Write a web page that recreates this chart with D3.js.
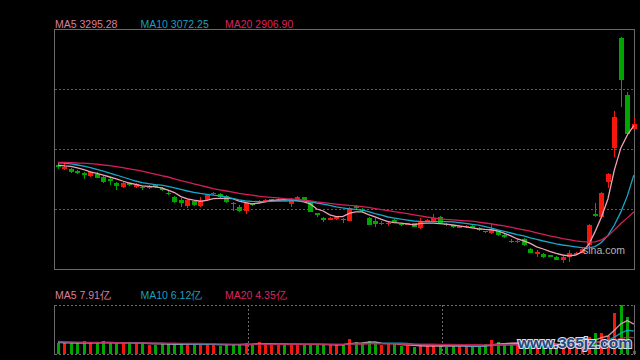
<!DOCTYPE html>
<html><head><meta charset="utf-8">
<script src="https://cdn.jsdelivr.net/npm/d3@7/dist/d3.min.js"></script>
<style>html,body{margin:0;padding:0;background:#000;}svg{display:block}</style>
</head><body><svg id="c" width="640" height="360"></svg>
<script>
// ---- data ----
const openP = [3118,3102,3100,3091,3083,3070,3078,3063,3054,3038,3020,3036,3018,3018,3013,3028,3016,2993,2975,2959,2935,2955,2935,2959,2986,2988,2978,2948,2930,2912,2944,2948,2957,2957,2958,2964,2943,2961,2973,2950,2900,2878,2874,2875,2874,2867,2932,2917,2880,2867,2854,2853,2871,2853,2850,2856,2833,2865,2863,2885,2853,2847,2838,2839,2844,2836,2820,2811,2822,2801,2778,2774,2784,2741,2721,2718,2711,2705,2691,2705,2718,2724,2758,2896,2885,3040,3196,3691,3433,3281];
const highP = [3127,3127,3105,3096,3088,3090,3088,3069,3058,3043,3043,3039,3036,3022,3027,3031,3019,3000,2980,2968,2964,2959,2975,2986,2995,2992,2981,2953,2937,2948,2949,2959,2966,2967,2968,2968,2968,2980,2975,2953,2904,2885,2884,2885,2878,2931,2937,2923,2883,2878,2865,2864,2874,2857,2857,2858,2881,2874,2896,2889,2856,2849,2845,2848,2847,2839,2822,2858,2826,2811,2783,2783,2790,2745,2736,2722,2713,2709,2707,2736,2728,2745,2853,2946,2998,3082,3362,3694,3448,3328];
const lowP = [3102,3096,3083,3078,3056,3064,3058,3036,3028,3006,3016,3024,3013,3007,3010,3015,3001,2982,2949,2930,2926,2935,2931,2956,2983,2968,2947,2910,2907,2896,2934,2944,2954,2954,2955,2956,2930,2956,2956,2905,2886,2863,2869,2872,2856,2865,2920,2901,2847,2838,2848,2845,2856,2844,2846,2838,2830,2862,2860,2856,2842,2835,2833,2836,2833,2822,2811,2808,2800,2788,2768,2767,2755,2721,2705,2701,2703,2689,2677,2683,2714,2721,2755,2883,2881,3013,3153,3378,3255,3279];
const closeP = [3108,3109,3087,3083,3074,3085,3061,3043,3047,3024,3036,3028,3031,3013,3024,3018,3006,2989,2953,2946,2961,2938,2954,2982,2991,2973,2953,2944,2912,2946,2939,2955,2961,2964,2964,2959,2964,2975,2959,2908,2895,2874,2878,2882,2869,2925,2923,2912,2849,2853,2858,2857,2858,2848,2855,2840,2863,2871,2881,2858,2848,2838,2842,2845,2836,2826,2815,2829,2803,2796,2774,2778,2758,2723,2725,2704,2706,2692,2703,2721,2724,2740,2850,2892,2993,3078,3335,3500,3258,3303];
const ma5 = [3117,3114,3112,3105,3097,3087,3080,3072,3064,3056,3046,3037,3031,3024,3022,3020,3015,3005,2994,2976,2966,2960,2955,2959,2967,2968,2968,2967,2955,2949,2943,2946,2952,2959,2960,2961,2961,2958,2952,2943,2920,2911,2894,2886,2886,2900,2907,2907,2895,2885,2873,2863,2859,2856,2853,2849,2855,2856,2856,2854,2852,2848,2844,2840,2835,2831,2828,2826,2821,2810,2799,2785,2777,2765,2750,2740,2729,2720,2713,2709,2713,2727,2758,2817,2884,2965,3096,3195,3253,3295.28];
const ma10 = [3128,3126,3123,3118,3113,3106,3098,3090,3081,3073,3064,3055,3046,3039,3034,3030,3027,3022,3015,3008,3001,2995,2990,2986,2982,2979,2974,2968,2961,2956,2954,2953,2953,2954,2955,2956,2957,2957,2956,2952,2947,2942,2936,2930,2925,2921,2918,2915,2908,2899,2892,2884,2879,2874,2870,2866,2864,2863,2863,2863,2863,2862,2859,2855,2851,2847,2841,2834,2826,2819,2812,2805,2799,2790,2783,2776,2770,2763,2758,2754,2750,2746,2745,2751,2769,2801,2848,2907,2979,3072.25];
const ma20 = [3130,3130,3129,3127,3126,3124,3122,3118,3115,3111,3106,3101,3096,3090,3084,3077,3070,3064,3056,3048,3041,3033,3026,3019,3012,3006,3001,2996,2990,2986,2982,2978,2975,2972,2970,2967,2965,2963,2960,2956,2952,2949,2945,2942,2939,2936,2934,2931,2927,2922,2917,2913,2908,2904,2899,2894,2889,2884,2880,2876,2873,2871,2869,2867,2865,2861,2857,2853,2848,2844,2838,2832,2826,2820,2813,2806,2799,2793,2787,2782,2777,2773,2771,2772,2781,2799,2826,2855,2880,2906.90];
// volume in 亿
const volume = [3.0,2.85,2.85,2.85,3.35,2.85,2.85,3.45,2.85,3.0,2.85,2.85,3.0,2.85,2.45,2.4,2.85,2.55,2.55,2.55,2.55,2.55,2.55,2.55,2.55,2.2,2.55,2.55,2.55,2.85,2.55,3.2,2.55,2.55,2.55,2.55,2.55,2.55,2.55,2.55,2.55,2.4,2.4,2.4,2.4,4.0,3.2,2.65,3.45,2.65,2.4,2.65,2.65,2.1,2.2,1.85,2.2,2.2,2.2,2.2,1.95,2.1,2.1,2.1,1.85,1.95,2.55,3.7,3.2,2.4,2.4,2.85,2.9,3.0,2.5,2.5,2.3,2.4,2.5,2.45,2.65,3.2,4.5,5.65,5.65,4.85,10.95,13.0,9.9,0.85];
const volMa5 = [3.1,3.0,2.95,2.9,2.95,2.95,2.95,3.05,3.07,3.0,3.0,3.0,2.92,2.9,2.8,2.71,2.71,2.62,2.56,2.58,2.55,2.55,2.55,2.55,2.55,2.48,2.48,2.48,2.48,2.54,2.61,2.74,2.74,2.74,2.68,2.68,2.55,2.55,2.55,2.55,2.55,2.52,2.49,2.46,2.43,2.72,2.88,2.93,3.14,3.19,2.87,2.76,2.76,2.49,2.4,2.29,2.2,2.11,2.13,2.13,2.15,2.13,2.11,2.09,2.02,2.02,2.11,2.43,2.65,2.76,2.85,2.91,2.75,2.71,2.73,2.75,2.64,2.54,2.44,2.43,2.46,2.64,3.06,3.69,4.33,4.77,6.32,8.02,8.87,7.91];
const volMa10 = [3.15,3.1,3.05,3.0,3.0,2.98,2.97,2.98,2.98,2.98,2.97,2.97,2.98,2.98,2.89,2.84,2.84,2.75,2.72,2.68,2.65,2.62,2.57,2.54,2.55,2.53,2.5,2.5,2.5,2.53,2.53,2.6,2.6,2.6,2.6,2.64,2.64,2.64,2.61,2.61,2.61,2.55,2.55,2.54,2.52,2.66,2.72,2.73,2.82,2.83,2.82,2.85,2.88,2.85,2.83,2.6,2.5,2.46,2.33,2.29,2.25,2.24,2.17,2.17,2.14,2.12,2.15,2.27,2.37,2.39,2.43,2.52,2.6,2.69,2.76,2.82,2.8,2.67,2.6,2.6,2.5,2.6,2.8,3.07,3.38,3.62,4.48,5.54,6.28,6.12];
const volMa20 = [3.3,3.25,3.2,3.15,3.1,3.08,3.06,3.04,3.02,3.0,2.98,2.96,2.94,2.92,2.9,2.88,2.87,2.85,2.84,2.83,2.8,2.79,2.78,2.76,2.72,2.69,2.67,2.63,2.61,2.6,2.59,2.6,2.58,2.58,2.58,2.59,2.58,2.58,2.58,2.58,2.58,2.57,2.57,2.56,2.56,2.63,2.66,2.67,2.72,2.72,2.71,2.68,2.7,2.67,2.65,2.63,2.61,2.6,2.58,2.56,2.55,2.52,2.5,2.48,2.46,2.44,2.43,2.45,2.45,2.43,2.42,2.44,2.46,2.48,2.49,2.5,2.5,2.5,2.5,2.5,2.52,2.58,2.7,2.88,3.07,3.22,3.64,4.1,4.43,4.35];
const maNames = ["MA5","MA10","MA20"];
const priceMaLabels = ["3295.28","3072.25","2906.90"];
const volMaLabels = ["7.91亿","6.12亿","4.35亿"];
const dividerAfter = [29, 59];   // period separators in the volume panel

// ---- styles ----
const RED = "#f5160c", GREEN = "#00a600";
const maLine = ["#f0a2b8", "#16a9c9", "#d51f5a"];
const maText = ["#dc7f9c", "#1b9fbf", "#dd2460"];
const FONT = "'Liberation Sans', Arial, sans-serif";

const svg = d3.select("#c");
svg.append("rect").attr("width",640).attr("height",360).attr("fill","#000");

const n = closeP.length;
const x = d3.scaleLinear().domain([0, n-1]).range([58, 633.8]);
const y = d3.scaleLinear().domain([2650, 3730]).range([269, 29]);
const yv = d3.scaleLinear().domain([0, 13]).range([354, 305]);
const px = v => Math.round(v);

// main panel grid
const gridVals = d3.range(1,4).map(k => 2650 + k*(3730-2650)/4);
svg.append("g").selectAll("line").data(gridVals).join("line")
  .attr("x1",55).attr("x2",634).attr("y1",d=>px(y(d))+0.5).attr("y2",d=>px(y(d))+0.5)
  .attr("stroke","#5a5a5a").attr("stroke-dasharray","2,2");
svg.append("rect").attr("x",54.5).attr("y",29.5).attr("width",580).attr("height",240)
  .attr("fill","none").attr("stroke","#6a6a6a");

// candles
const idx = d3.range(n);
const cg = svg.append("g").attr("shape-rendering","crispEdges");
cg.selectAll("line").data(idx).join("line")
  .attr("x1",i=>px(x(i))+0.5).attr("x2",i=>px(x(i))+0.5)
  .attr("y1",i=>y(highP[i])).attr("y2",i=>y(lowP[i]))
  .attr("stroke",i=>closeP[i]>=openP[i]?RED:GREEN);
cg.selectAll("rect").data(idx).join("rect")
  .attr("x",i=>px(x(i))-2).attr("width",5)
  .attr("y",i=>y(Math.max(openP[i],closeP[i])))
  .attr("height",i=>Math.max(1.2, Math.abs(y(openP[i])-y(closeP[i]))))
  .attr("fill",i=>closeP[i]>=openP[i]?RED:GREEN);

// MA lines
const lineP = d3.line().x((d,i)=>x(i)).y(d=>y(d));
[ma5, ma10, ma20].forEach((arr,k)=>{
  svg.append("path").attr("d",lineP(arr)).attr("fill","none")
    .attr("stroke",maLine[k]).attr("stroke-width",1.3);
});

// legends
const legX = [55, 140.5, 225];
maNames.forEach((nm,k)=>{
  svg.append("text").attr("x",legX[k]).attr("y",28).attr("fill",maText[k])
    .attr("font-family",FONT).attr("font-size","10.5px").text(nm+" "+priceMaLabels[k]);
  svg.append("text").attr("x",legX[k]).attr("y",299).attr("fill",maText[k])
    .attr("font-family",FONT).attr("font-size","10.5px").text(nm+" "+volMaLabels[k]);
});

// sina watermark
svg.append("text").attr("x",583).attr("y",254).attr("fill","#b4b4b4")
  .attr("font-family",FONT).attr("font-size","10.5px").text("sina.com");

// volume panel frame
svg.append("g").selectAll("line").data(dividerAfter).join("line")
  .attr("x1",i=>px(x(i)+2.5)+0.5).attr("x2",i=>px(x(i)+2.5)+0.5)
  .attr("y1",305).attr("y2",354).attr("stroke","#6a6a6a").attr("stroke-dasharray","2,2");
const vg = svg.append("g").attr("shape-rendering","crispEdges");
vg.selectAll("rect").data(idx).join("rect")
  .attr("x",i=>px(x(i))-1).attr("width",3)
  .attr("y",i=>yv(volume[i])).attr("height",i=>yv(0)-yv(volume[i]))
  .attr("fill",i=>closeP[i]>=openP[i]?RED:GREEN);
const lineV = d3.line().x((d,i)=>x(i)).y(d=>yv(d));
[volMa5, volMa10, volMa20].forEach((arr,k)=>{
  svg.append("path").attr("d",lineV(arr)).attr("fill","none")
    .attr("stroke",maLine[k]).attr("stroke-width",1.4).attr("opacity",0.85);
});
[305.5, 354.5].forEach(yy=>{
  svg.append("line").attr("x1",55).attr("x2",634).attr("y1",yy).attr("y2",yy)
    .attr("stroke","#6a6a6a").attr("stroke-dasharray","2,2");
});
[54.5, 634.5].forEach(xx=>{
  svg.append("line").attr("x1",xx).attr("x2",xx).attr("y1",305).attr("y2",355)
    .attr("stroke","#6a6a6a");
});

// site watermark
svg.append("text").attr("x",518).attr("y",348).attr("fill","#25477e")
  .attr("stroke","#d8dde8").attr("stroke-width",2).attr("paint-order","stroke")
  .attr("font-family",FONT).attr("font-weight","bold")
  .attr("font-size","15.5px").text("www.365jz.com");
</script></body></html>
